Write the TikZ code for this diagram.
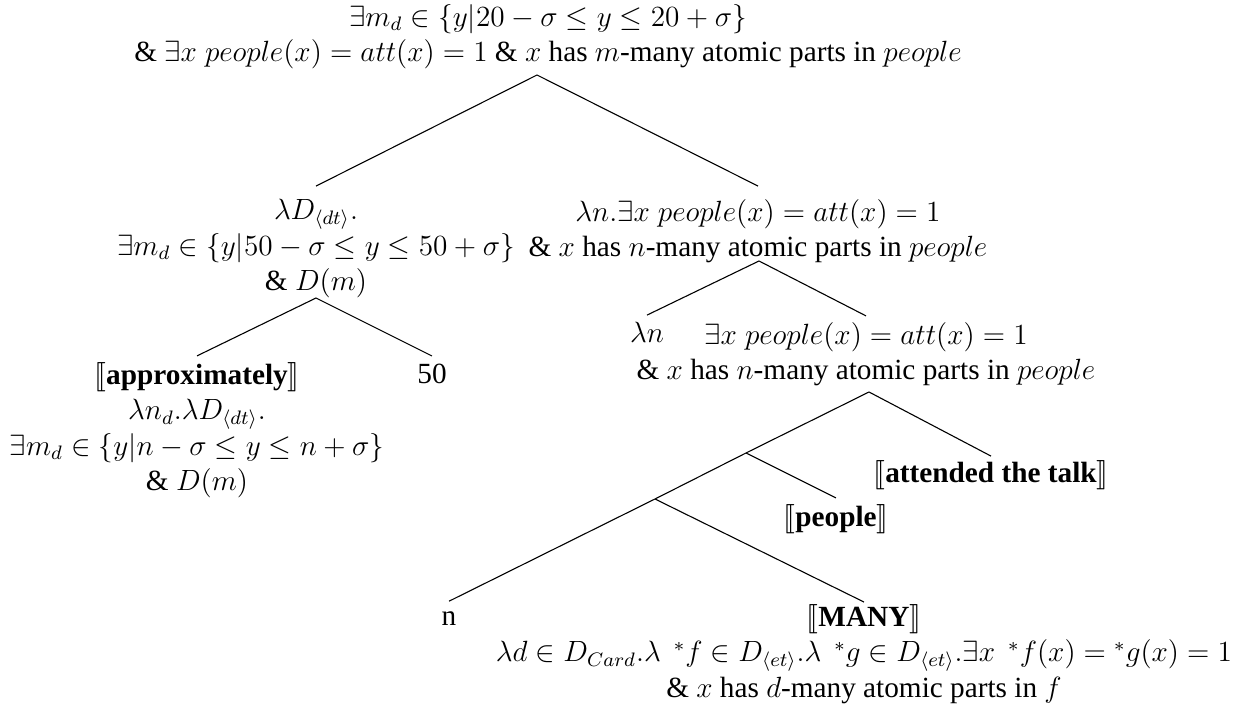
\documentclass[tikz,border=0pt]{standalone}
\usepackage{fontspec}
\setmainfont{Liberation Serif}
\usepackage{stmaryrd}
\newcommand{\den}[1]{$\llbracket$\textbf{#1}$\rrbracket$}
\newcommand{\st}{\;\,{}^{*}}
\begin{document}
\begin{tikzpicture}[x=0.41pt,y=-0.41pt,
  lbl/.style={align=center,inner sep=0pt,anchor=north,font=\fontsize{12}{14.5}\selectfont},
  branch/.style={line width=0.45pt}]
\useasboundingbox (0,0) rectangle (1246,711);
% nodes
\node[lbl] (root) at (548,4) {$\exists m_d \in \{y|20-\sigma \leq y \leq 20+\sigma\}$\\
  \& $\exists x\; people(x) = att(x) = 1$ \& $x$ has $m$-many atomic parts in $people$};
\coordinate (rootapex) at (537,75);
\node[lbl] (L1) at (316,199) {$\lambda D_{\langle dt\rangle}.$\\
  $\exists m_d \in \{y|50-\sigma \leq y \leq 50+\sigma\}$\\ $\&\ D(m)$};
\node[lbl] (R1) at (758,199) {$\lambda n.\exists x\; people(x) = att(x) = 1$\\
  \& $x$ has $n$-many atomic parts in $people$};
\coordinate (l1apex) at (316,298);
\coordinate (r1apex) at (759,261);
\node[lbl] (A) at (197,362) {\den{approximately}\\ $\lambda n_d.\lambda D_{\langle dt\rangle}.$\\
  $\exists m_d \in \{y|n-\sigma \leq y \leq n+\sigma\}$\\ $\&\ D(m)$};
\node[lbl,anchor=base] (fifty) at (432,384) {50};
\node[lbl,anchor=base] (lamn) at (647,343) {$\lambda n$};
\node[lbl] (R2) at (866,322) {$\exists x\; people(x) = att(x) = 1$\\
  \& $x$ has $n$-many atomic parts in $people$};
\coordinate (r2apex) at (869,392);
\coordinate (j1) at (746,453);
\coordinate (j2) at (655,499);
\node[lbl] (att) at (991,460) {\den{attended the talk}};
\node[lbl] (ppl) at (836,504) {\den{people}};
\node[lbl,anchor=base] (n) at (449,626) {n};
\node[lbl] (many) at (864,604) {\den{MANY}\\
  $\lambda d \in D_{Card}.\lambda \st f \in D_{\langle et\rangle}.\lambda \st g \in D_{\langle et\rangle}.\exists x \st f(x) = {}^{*}g(x) = 1$\\
  \& $x$ has $d$-many atomic parts in $f$};
% connectors
\draw[branch] ([yshift=5.3pt]L1.north) -- (rootapex) -- ([yshift=5.3pt]R1.north);
\draw[branch] ([yshift=2.5pt]A.north) -- (l1apex) -- ([yshift=3.3pt]fifty.north);
\draw[branch] ([yshift=2.9pt]lamn.north) -- (r1apex) -- ([yshift=2.5pt]R2.north);
\draw[branch] ([yshift=1.6pt]att.north) -- (r2apex) -- (j1) -- (j2) -- ([yshift=4.3pt]n.north);
\draw[branch] (j1) -- ([yshift=2.5pt]ppl.north);
\draw[branch] (j2) -- ([yshift=0.8pt]many.north);
\end{tikzpicture}
\end{document}
